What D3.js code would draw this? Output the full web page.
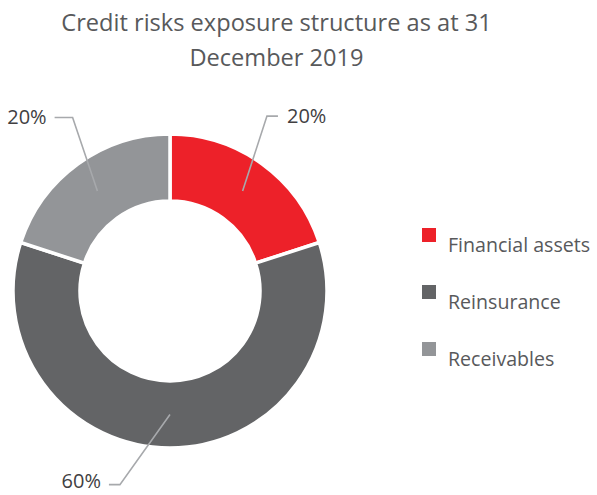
<!DOCTYPE html>
<html>
<head>
<meta charset="utf-8">
<script src="https://cdn.jsdelivr.net/npm/d3@7"></script>
<style>
  html, body { margin: 0; padding: 0; background: #fff; }
  svg { display: block; }
  text { font-family: "Open Sans", "Noto Sans", sans-serif; }
</style>
</head>
<body>
<svg id="chart" width="597" height="495"></svg>
<script>
// ---- data ----
const titleLines = ["Credit risks exposure structure as at 31", "December 2019"];
const categories = ["Financial assets", "Reinsurance", "Receivables"];
const values = [20, 60, 20];
const valueLabels = ["20%", "60%", "20%"];
const colors = ["#ed2129", "#636466", "#939598"];

// ---- layout ----
const W = 597, H = 495;
const cx = 170, cy = 291, outerR = 157, innerR = 90;
// leader-line layout per slice: elbow radius/angle, horizontal run, label baseline offset
const leaders = [
  { elbowR: 200, elbowDeg: 29, run: 11, dy: 6.5 },
  { elbowR: 200, elbowDeg: 194.5, run: -11, dy: 3.2 },
  { elbowR: 199, elbowDeg: -29.3, run: -18, dy: 6.5 }
];

const svg = d3.select("#chart");

// title
svg.append("text")
  .attr("x", 276.5).attr("text-anchor", "middle")
  .attr("fill", "#58595b").attr("font-size", 23.6)
  .selectAll("tspan").data(titleLines).join("tspan")
  .attr("x", 276.5).attr("y", (d, i) => 31 + i * 35)
  .text(d => d);

const pie = d3.pie().sort(null).value(d => d)(values);
const arc = d3.arc().innerRadius(innerR).outerRadius(outerR);
const g = svg.append("g").attr("transform", `translate(${cx},${cy})`);

g.selectAll("path").data(pie).join("path")
  .attr("d", arc)
  .attr("fill", (d, i) => colors[i])
  .attr("stroke", "#fff").attr("stroke-width", 3.5);

// leader lines + labels
pie.forEach((d, i) => {
  const c = arc.centroid(d);
  const L = leaders[i];
  const a = L.elbowDeg * Math.PI / 180;
  const ex = L.elbowR * Math.sin(a), ey = -L.elbowR * Math.cos(a);
  const hx = ex + L.run;
  g.append("polyline")
    .attr("points", [[c[0], c[1]], [ex, ey], [hx, ey]].map(p => p.join(",")).join(" "))
    .attr("fill", "none").attr("stroke", "#a7a9ac").attr("stroke-width", 1.6);
  g.append("text")
    .attr("x", hx + (L.run > 0 ? 9 : -8))
    .attr("y", ey + L.dy)
    .attr("text-anchor", L.run > 0 ? "start" : "end")
    .attr("font-size", 20).attr("fill", "#414042")
    .text(valueLabels[i]);
});

// legend
const leg = svg.append("g").attr("transform", "translate(422,228)");
const rows = leg.selectAll("g").data(categories).join("g")
  .attr("transform", (d, i) => `translate(0,${i * 57})`);
rows.append("rect").attr("width", 14).attr("height", 14)
  .attr("fill", (d, i) => colors[i]);
rows.append("text").attr("x", 26).attr("y", 23.5)
  .attr("font-size", 19.6).attr("fill", "#58595b")
  .text(d => d);
</script>
</body>
</html>
